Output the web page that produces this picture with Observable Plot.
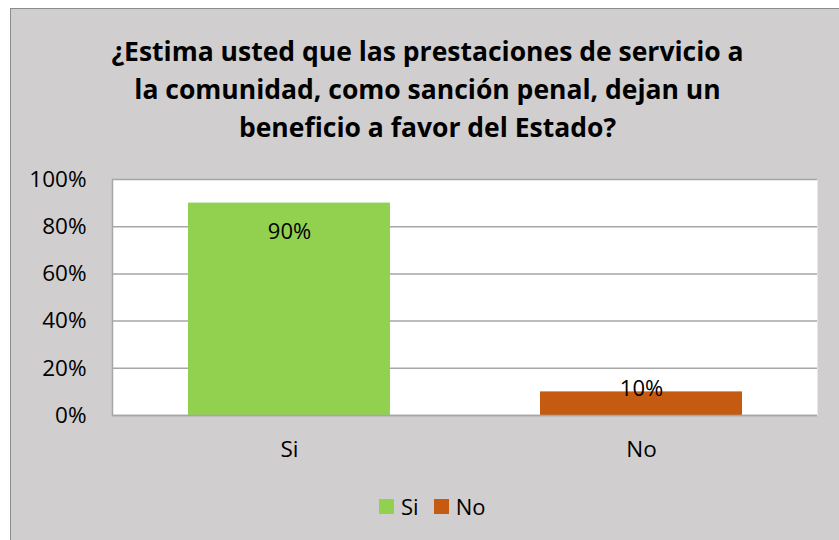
<!DOCTYPE html>
<html>
<head>
<meta charset="utf-8">
<script src="https://cdn.jsdelivr.net/npm/d3@7"></script>
<script src="https://cdn.jsdelivr.net/npm/@observablehq/plot@0.6"></script>
<style>
  html, body { margin: 0; padding: 0; background: #ffffff; }
  #wrap { position: relative; width: 839px; height: 540px; overflow: hidden; font-family: "Open Sans", sans-serif; }
  #panel { position: absolute; left: 10px; top: 8px; width: 840px; height: 545px; background: #d0cece; border: 1px solid #8c8c8c; box-sizing: border-box; }
  #title { position: absolute; left: 0; width: 855px; top: 32px; text-align: center; font-weight: bold; font-size: 26.5px; line-height: 38px; color: #000; }
  #chart { position: absolute; left: 0; top: 150px; }
  #legend { position: absolute; top: 491px; left: 379px; display: flex; align-items: center; font-size: 22px; color: #000; }
  .sw { width: 15px; height: 15px; display: inline-block; margin-right: 7px; }
  .item { display: flex; align-items: center; margin-right: 15px; }
</style>
</head>
<body>
<div id="wrap">
  <div id="panel"></div>
  <div id="title">¿Estima usted que las prestaciones de servicio a<br>la comunidad, como sanción penal, dejan un<br>beneficio a favor del Estado?</div>
  <div id="chart"></div>
  <div id="legend"></div>
</div>
<script>
const categories = ["Si", "No"];
const values = [0.90, 0.10];
const valueLabels = ["90%", "10%"];
const colors = ["#92d050", "#c55a11"];
const yTicks = [0, 0.2, 0.4, 0.6, 0.8, 1.0];

const data = categories.map((c, i) => ({cat: c, value: values[i], label: valueLabels[i]}));

const chart = Plot.plot({
  width: 839,
  height: 320,
  marginTop: 29,
  marginBottom: 55,
  marginLeft: 112,
  marginRight: 22,
  style: {fontFamily: "Open Sans, sans-serif", fontSize: "22.5px", color: "#000", background: "transparent"},
  x: {domain: categories, paddingInner: 0.427, paddingOuter: 0.2135, label: null, tickSize: 0, tickPadding: 26},
  y: {domain: [0, 1], ticks: yTicks, tickFormat: d3.format(".0%"), label: null, tickSize: 0, tickPadding: 26},
  color: {domain: categories, range: colors},
  marks: [
    Plot.frame({fill: "white", stroke: null}),
    Plot.gridY(yTicks, {stroke: "#a6a6a6", strokeOpacity: 1, strokeWidth: 1.5}),
    Plot.frame({anchor: "left", stroke: "#a6a6a6", strokeWidth: 1.5}),
    Plot.barY(data, {x: "cat", y: "value", fill: "cat"}),
    Plot.text(data, {filter: d => d.value >= 0.5, x: "cat", y: "value", text: "label", dy: 29, fontSize: 22, fill: "#000"}),
    Plot.text(data, {filter: d => d.value < 0.5, x: "cat", y: "value", text: "label", dy: -3, fontSize: 22, fill: "#000"}),
    Plot.ruleY([0], {stroke: "#a6a6a6", strokeWidth: 1.5})
  ]
});
document.getElementById("chart").appendChild(chart);

const legend = document.getElementById("legend");
categories.forEach((c, i) => {
  const item = document.createElement("div");
  item.className = "item";
  const sw = document.createElement("span");
  sw.className = "sw";
  sw.style.background = colors[i];
  item.appendChild(sw);
  const t = document.createElement("span");
  t.textContent = c;
  item.appendChild(t);
  legend.appendChild(item);
});
</script>
</body>
</html>
